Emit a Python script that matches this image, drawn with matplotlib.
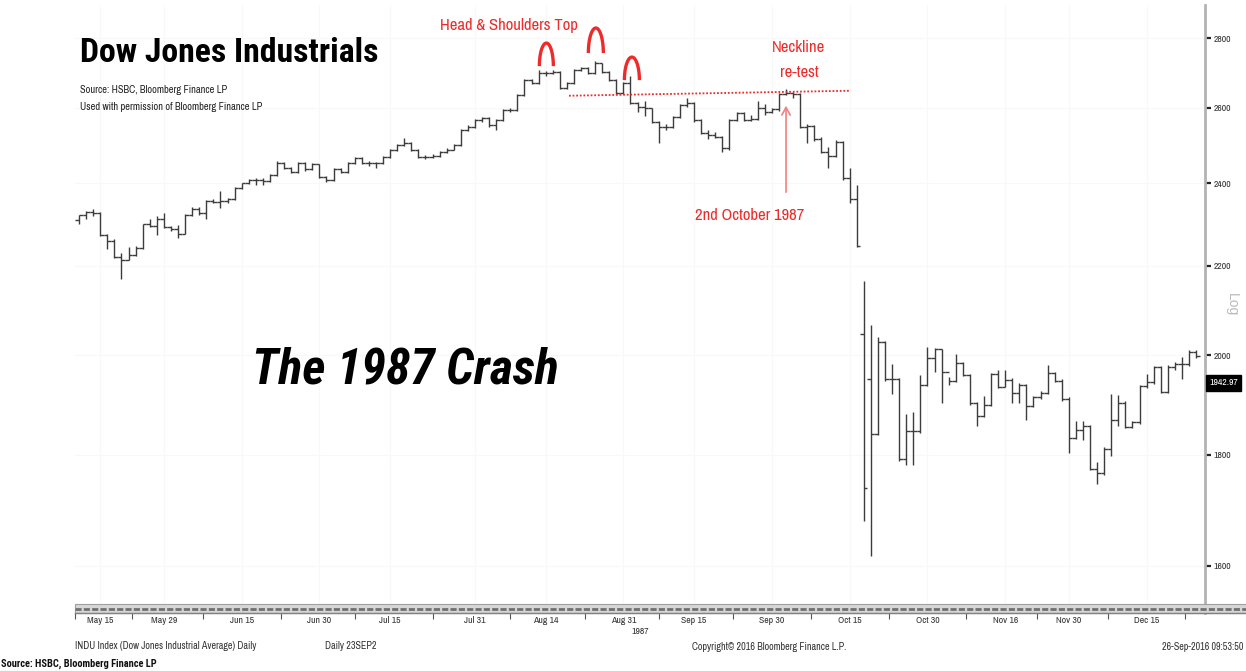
import numpy as np
import pandas as pd
import matplotlib
matplotlib.use("Agg")
import matplotlib.pyplot as plt
from matplotlib.lines import Line2D
from matplotlib.patches import Rectangle
from matplotlib.transforms import IdentityTransform
from matplotlib import font_manager
from matplotlib.ticker import NullLocator, FixedLocator

W, H = 1246, 671

# ---------------- data ----------------
start_date = "1987-05-12"
end_date = "1987-12-24"
market_holidays = ["1987-05-25", "1987-07-03", "1987-09-07", "1987-11-26"]

open_ = [2309, 2321, 2329, 2327, 2272, 2259, 2221, 2214, 2225, 2242,
         2298, 2294, 2312, 2292, 2286, 2276, 2321, 2337, 2325, 2356,
         2354, 2356, 2361, 2388, 2400, 2409, 2409, 2407, 2422, 2452,
         2439, 2430, 2452, 2436, 2449, 2417, 2409, 2437, 2430, 2452,
         2465, 2452, 2452, 2452, 2469, 2487, 2500, 2506, 2488, 2469,
         2469, 2471, 2482, 2488, 2500, 2540, 2549, 2567, 2573, 2553,
         2567, 2594, 2594, 2636, 2678, 2669, 2697, 2697, 2702, 2655,
         2669, 2706, 2712, 2697, 2726, 2702, 2678, 2641, 2669, 2613,
         2604, 2599, 2562, 2549, 2549, 2576, 2608, 2613, 2566, 2531,
         2526, 2522, 2491, 2567, 2585, 2567, 2570, 2601, 2590, 2596,
         2639, 2641, 2640, 2549, 2551, 2517, 2482, 2471, 2508, 2413,
         2360, 2047, 1950, 1841, 2029, 1950, 1950, 1792, 1845, 1846,
         1939, 1995, 2013, 1966, 1946, 1984, 1959, 1901, 1876, 1898,
         1960, 1935, 1949, 1922, 1939, 1895, 1913, 1922, 1963, 1947,
         1910, 1832, 1847, 1855, 1774, 1765, 1811, 1867, 1902, 1854,
         1863, 1936, 1944, 1975, 1924, 1976, 1981, 1981, 2008]

high = [2321, 2331, 2337, 2329, 2274, 2262, 2230, 2244, 2245, 2300,
        2311, 2318, 2326, 2294, 2296, 2323, 2340, 2340, 2358, 2362,
        2380, 2364, 2390, 2402, 2412, 2415, 2415, 2425, 2458, 2456,
        2442, 2455, 2454, 2452, 2451, 2420, 2440, 2440, 2455, 2468,
        2468, 2458, 2455, 2472, 2490, 2503, 2519, 2508, 2490, 2474,
        2475, 2485, 2492, 2503, 2543, 2553, 2570, 2576, 2575, 2570,
        2597, 2599, 2639, 2681, 2682, 2708, 2703, 2706, 2705, 2672,
        2709, 2716, 2715, 2733, 2728, 2705, 2681, 2672, 2690, 2616,
        2620, 2601, 2564, 2556, 2579, 2611, 2627, 2616, 2569, 2540,
        2535, 2524, 2570, 2588, 2588, 2580, 2620, 2610, 2600, 2642,
        2652, 2645, 2642, 2556, 2553, 2520, 2495, 2513, 2510, 2439,
        2396, 2164, 2066, 2040, 2030, 1981, 1952, 1880, 1883, 1959,
        2018, 2015, 2013, 1955, 2004, 1987, 1962, 1903, 1915, 1963,
        1969, 1969, 1952, 1942, 1941, 1916, 1925, 1980, 1966, 1950,
        1913, 1865, 1865, 1858, 1786, 1814, 1920, 1918, 1905, 1866,
        1939, 1960, 1978, 1978, 1979, 1986, 1997, 2011, 2012]

low = [2299, 2311, 2318, 2270, 2239, 2218, 2168, 2212, 2223, 2240,
       2292, 2272, 2290, 2282, 2266, 2274, 2318, 2322, 2311, 2350,
       2338, 2352, 2358, 2385, 2398, 2396, 2396, 2404, 2420, 2436,
       2427, 2428, 2433, 2434, 2414, 2405, 2406, 2427, 2428, 2450,
       2449, 2446, 2439, 2450, 2467, 2485, 2497, 2485, 2466, 2464,
       2466, 2469, 2479, 2486, 2498, 2537, 2546, 2563, 2549, 2540,
       2564, 2589, 2591, 2633, 2666, 2666, 2690, 2694, 2652, 2652,
       2666, 2703, 2694, 2694, 2699, 2675, 2638, 2638, 2610, 2590,
       2578, 2559, 2504, 2540, 2546, 2573, 2604, 2563, 2528, 2517,
       2519, 2482, 2488, 2564, 2564, 2564, 2567, 2580, 2587, 2593,
       2636, 2627, 2546, 2504, 2510, 2478, 2439, 2468, 2410, 2350,
       2244, 1678, 1616, 1838, 1946, 1919, 1788, 1781, 1780, 1843,
       1936, 1966, 1901, 1939, 1944, 1956, 1898, 1856, 1874, 1895,
       1932, 1934, 1901, 1901, 1867, 1893, 1910, 1919, 1944, 1906,
       1803, 1830, 1828, 1771, 1746, 1762, 1797, 1855, 1851, 1851,
       1860, 1933, 1941, 1921, 1921, 1970, 1950, 1978, 1995]

close = [2321, 2329, 2327, 2272, 2259, 2221, 2214, 2225, 2242, 2298,
         2294, 2312, 2292, 2286, 2276, 2321, 2337, 2325, 2356, 2354,
         2356, 2361, 2388, 2400, 2409, 2409, 2407, 2422, 2452, 2439,
         2430, 2452, 2436, 2449, 2417, 2409, 2437, 2430, 2452, 2465,
         2452, 2452, 2452, 2469, 2487, 2500, 2506, 2488, 2469, 2469,
         2471, 2482, 2488, 2500, 2540, 2549, 2567, 2573, 2553, 2567,
         2594, 2594, 2636, 2678, 2669, 2697, 2697, 2702, 2655, 2669,
         2706, 2712, 2697, 2726, 2702, 2678, 2641, 2669, 2613, 2604,
         2599, 2562, 2549, 2549, 2576, 2608, 2613, 2566, 2531, 2526,
         2522, 2491, 2567, 2585, 2567, 2570, 2601, 2590, 2596, 2639,
         2641, 2640, 2549, 2551, 2517, 2482, 2471, 2508, 2413, 2360,
         2246, 1738, 1841, 2029, 1950, 1950, 1792, 1845, 1846, 1939,
         1995, 2013, 1966, 1946, 1984, 1959, 1901, 1876, 1898, 1960,
         1935, 1949, 1922, 1939, 1895, 1913, 1922, 1963, 1947, 1910,
         1832, 1847, 1855, 1774, 1765, 1811, 1867, 1902, 1854, 1863,
         1936, 1944, 1975, 1924, 1976, 1981, 1981, 2008, 1998]

tick_dates = ["1987-05-15", "1987-05-29", "1987-06-15", "1987-06-30", "1987-07-15",
              "1987-07-31", "1987-08-14", "1987-08-31", "1987-09-15", "1987-09-30",
              "1987-10-15", "1987-10-30", "1987-11-16", "1987-11-30", "1987-12-15"]
tick_labels = ["May 15", "May 29", "Jun 15", "Jun 30", "Jul 15", "Jul 31", "Aug 14",
               "Aug 31", "Sep 15", "Sep 30", "Oct 15", "Oct 30", "Nov 16", "Nov 30", "Dec 15"]
y_ticks = [1600, 1800, 2000, 2200, 2400, 2600, 2800]
last_price = 1942.97

# annotation anchors (bar index, level)
neckline_x = [69.3, 109.1]
neckline_y = [2634, 2648]
arc_anchor_x = [66.1, 73.1, 78.2]
arc_anchor_y = [2718, 2756, 2678]
arrow_x = 100
arrow_from = 2371
arrow_to = 2614

# ---------------- fonts ----------------
ttf = font_manager.fontManager.ttflist
avail = {f.name for f in ttf}
def pick(*names):
    for n in names:
        if n in avail:
            return n
    return "DejaVu Sans"
SANS = pick("Liberation Sans", "Arial")
NARROW = pick("Archivo Narrow", "Liberation Sans Narrow", "Roboto Condensed",
              "PT Sans Narrow", "Liberation Sans")
BOLDC = pick("Roboto Condensed", "Fira Sans Condensed", "IBM Plex Sans Condensed",
             "Liberation Sans")

# ---------------- figure ----------------
fig = plt.figure(figsize=(W / 100, H / 100), dpi=100)
fig.patch.set_facecolor("white")

def fx(px):
    return px / W

def fy(py):
    return 1 - py / H

ax_left, ax_right, ax_top, ax_bottom = 75, 1205, 5, 613
ax = fig.add_axes([fx(ax_left), fy(ax_bottom), (ax_right - ax_left) / W, (ax_bottom - ax_top) / H])
ax.set_facecolor("white")
ax.set_yscale("log")
ax.set_ylim(1522, 2900)
ax.set_xlim(-0.57, 159.26)

dates = pd.bdate_range(start_date, end_date, freq="C", holidays=market_holidays)
x = np.arange(len(close))

BAR = "#3c3c3c"
ax.vlines(x, low, high, color=BAR, lw=1.0, zorder=3)
ax.hlines(open_, x - 0.5, x, color=BAR, lw=1.0, zorder=3)
ax.hlines(close, x, x + 0.5, color=BAR, lw=1.0, zorder=3)

# ticks
tick_pos = [dates.get_loc(pd.Timestamp(d)) for d in tick_dates]
ax.xaxis.set_major_locator(FixedLocator(tick_pos))
ax.set_xticklabels(tick_labels)
minor_pos = [(a + b) / 2 for a, b in zip(tick_pos[:-1], tick_pos[1:])]
minor_pos = [tick_pos[0] - 3.5] + minor_pos + [tick_pos[-1] + 5.5]
ax.xaxis.set_minor_locator(FixedLocator(minor_pos))
ax.tick_params(axis="x", which="major", length=0, pad=2, labelsize=7,
               labelcolor="#333333")
ax.tick_params(axis="x", which="minor", length=4, width=0.8, color="#555555", direction="out")
for t in ax.get_xticklabels():
    t.set_fontfamily(NARROW)

ax.yaxis.tick_right()
ax.yaxis.set_major_locator(FixedLocator(y_ticks))
ax.yaxis.set_minor_locator(NullLocator())
ax.set_yticklabels([str(v) for v in y_ticks])
ax.tick_params(axis="y", which="major", direction="out", length=4, width=1.6,
               color="#222222", labelsize=7, labelcolor="#333333", pad=2)
for t in ax.get_yticklabels():
    t.set_fontfamily(NARROW)

for s in ["left", "top", "bottom"]:
    ax.spines[s].set_visible(False)
ax.spines["right"].set_color("#b3b3b3")
ax.spines["right"].set_linewidth(2.0)

ax.grid(True, which="major", axis="both", color="#f8f8f8", lw=0.8, zorder=0)

# bottom time band
band = Rectangle((fx(ax_left), fy(613)), (W - ax_left) / W, 9 / H,
                 transform=fig.transFigure, facecolor="#d6d6d6", edgecolor="#a0a0a0",
                 lw=0.8, zorder=5)
fig.add_artist(band)
fig.add_artist(Line2D([fx(ax_left), fx(W)], [fy(608.5)] * 2, transform=fig.transFigure,
                      color="#707070", lw=2.0, dashes=(2.2, 0.8), zorder=6))
fig.add_artist(Line2D([fx(ax_left), fx(W)], [fy(612.5)] * 2, transform=fig.transFigure,
                      color="#808080", lw=1.0, zorder=6))

# neckline
RED = "#ee2b2b"
ax.plot(neckline_x, neckline_y, color=RED, lw=1.3, linestyle=(0, (1, 1)), zorder=4)

# shoulder / head arcs (pixel-sized shapes anchored to data)
arc_half_w = [7.0, 7.5, 7.5]
arc_height = [23, 25, 23]
t = np.linspace(0, np.pi, 60)
for xa, ya, hw, hh in zip(arc_anchor_x, arc_anchor_y, arc_half_w, arc_height):
    bx, by = ax.transData.transform((xa, ya))
    xs = bx + hw * np.cos(t)
    ys = by + hh * np.sin(t)
    fig.add_artist(Line2D(xs, ys, transform=IdentityTransform(), color=RED, lw=2.4,
                          solid_capstyle="butt", zorder=7))

# arrow to 2nd October
ax.annotate("", xy=(arrow_x, arrow_to), xytext=(arrow_x, arrow_from),
            arrowprops=dict(arrowstyle="->,head_length=0.55,head_width=0.3",
                            color="#f37f7f", lw=1.2), zorder=6)

# texts
fig.text(fx(80), fy(62), "Dow Jones Industrials", fontsize=24.3, fontweight="bold",
         family=BOLDC, color="black", va="baseline", ha="left")
fig.text(fx(80), fy(93), "Source: HSBC, Bloomberg Finance LP", fontsize=7.5,
         family=NARROW, color="#222222", va="baseline", ha="left")
fig.text(fx(80), fy(110), "Used with permission of Bloomberg Finance LP", fontsize=7.5,
         family=NARROW, color="#222222", va="baseline", ha="left")
fig.text(fx(252), fy(383), "The 1987 Crash", fontsize=36, fontweight="bold",
         fontstyle="italic", family=BOLDC, color="black", va="baseline", ha="left")

fig.text(fx(509), fy(30), "Head & Shoulders Top", fontsize=12, family=NARROW,
         color=RED, va="baseline", ha="center")
fig.text(fx(799), fy(52), "Neckline", fontsize=12, family=NARROW,
         color=RED, va="baseline", ha="center")
fig.text(fx(799), fy(77), "re-test", fontsize=12, family=NARROW,
         color=RED, va="baseline", ha="center")
fig.text(fx(750), fy(220), "2nd October 1987", fontsize=12, family=NARROW,
         color=RED, va="baseline", ha="center")

# right axis extras
fig.text(fx(1232), fy(305), "Log", fontsize=10, family=SANS, color="#bbbbbb",
         rotation=270, va="center", ha="center")
ax.annotate(f"{last_price:.2f}", xy=(1.0, last_price), xycoords=("axes fraction", "data"),
            xytext=(3, 0), textcoords="offset points", fontsize=7, family=NARROW,
            color="white", va="center", ha="left",
            bbox=dict(boxstyle="square,pad=0.35", facecolor="black", edgecolor="black"))

# footer texts
fig.text(fx(640), fy(632), "1987", fontsize=7, family=NARROW, color="#333333",
         va="center", ha="center")
fig.text(fx(75), fy(646), "INDU Index (Dow Jones Industrial Average) Daily", fontsize=7.2,
         family=NARROW, color="#333333", va="center", ha="left")
fig.text(fx(325), fy(646), "Daily 23SEP2", fontsize=7.2, family=NARROW, color="#333333",
         va="center", ha="left")
fig.text(fx(692), fy(647), "Copyright\u00a9 2016 Bloomberg Finance L.P.", fontsize=7.3,
         family=NARROW, color="#333333", va="center", ha="left")
fig.text(fx(1243), fy(647), "26-Sep-2016 09:53:50", fontsize=7.2, family=NARROW,
         color="#333333", va="center", ha="right")
fig.text(fx(1), fy(664), "Source: HSBC, Bloomberg Finance LP", fontsize=7.5, fontweight="bold",
         family=BOLDC, color="#111111", va="center", ha="left")

fig.savefig("out.png", dpi=100, facecolor="white")
